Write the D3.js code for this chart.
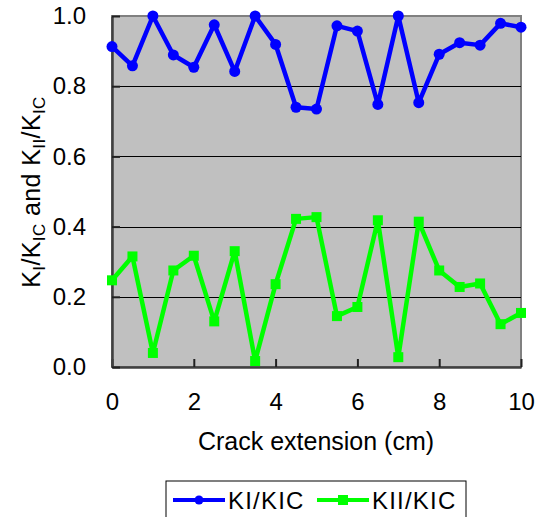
<!DOCTYPE html>
<html>
<head>
<meta charset="utf-8">
<script src="https://cdn.jsdelivr.net/npm/d3@7"></script>
<style>
  body { margin: 0; background: #fff; }
  text { font-family: "Liberation Sans", Arial, sans-serif; fill: #000; }
</style>
</head>
<body>
<svg id="chart"></svg>
<script>
// Data
const crackExt = [0, 0.5, 1, 1.5, 2, 2.5, 3, 3.5, 4, 4.5, 5, 5.5, 6, 6.5, 7, 7.5, 8, 8.5, 9, 9.5, 10];
const kiRatio = [0.913, 0.858, 1.0, 0.889, 0.854, 0.975, 0.842, 1.0, 0.919, 0.740, 0.735,
                 0.972, 0.957, 0.748, 1.0, 0.753, 0.891, 0.924, 0.917, 0.979, 0.968];
const kiiRatio = [0.247, 0.315, 0.040, 0.275, 0.317, 0.130, 0.330, 0.017, 0.236, 0.422, 0.427,
                  0.145, 0.171, 0.418, 0.028, 0.414, 0.275, 0.228, 0.238, 0.122, 0.154];
const xTicks = [0, 2, 4, 6, 8, 10];
const yTicks = [0, 0.2, 0.4, 0.6, 0.8, 1.0];
const seriesNames = ["KI/KIC", "KII/KIC"];

const width = 535, height = 517;
const margin = { top: 16, right: 14, bottom: 150, left: 112 };
const innerWidth = width - margin.left - margin.right;
const innerHeight = height - margin.top - margin.bottom;

const svg = d3.select("#chart")
    .attr("width", width)
    .attr("height", height);

const xScale = d3.scaleLinear().domain([0, 10]).range([0, innerWidth]);
const yScale = d3.scaleLinear().domain([0, 1]).range([innerHeight, 0]);

const innerChart = svg.append("g")
    .attr("transform", `translate(${margin.left},${margin.top})`);

// Plot background
innerChart.append("rect")
    .attr("width", innerWidth)
    .attr("height", innerHeight)
    .attr("fill", "#c0c0c0")
    .attr("stroke", "#808080")
    .attr("stroke-width", 2);

// Gridlines
innerChart.selectAll("line.grid")
    .data(yTicks.filter(d => d > 0 && d < 1))
    .join("line")
    .attr("class", "grid")
    .attr("x1", 0)
    .attr("x2", innerWidth)
    .attr("y1", d => Math.round(yScale(d)) + 0.5)
    .attr("y2", d => Math.round(yScale(d)) + 0.5)
    .attr("stroke", "#000")
    .attr("stroke-width", 1);

// Axes (ticks pointing inward)
const bottomAxis = d3.axisBottom(xScale)
    .tickValues(xTicks)
    .tickSizeInner(-8)
    .tickSizeOuter(0)
    .tickPadding(26)
    .tickFormat(d3.format("d"));
const bottomG = innerChart.append("g")
    .attr("transform", `translate(0, ${innerHeight})`)
    .call(bottomAxis);

const leftAxis = d3.axisLeft(yScale)
    .tickValues(yTicks)
    .tickSizeInner(-8)
    .tickSizeOuter(0)
    .tickPadding(26)
    .tickFormat(d3.format(".1f"));
const leftG = innerChart.append("g")
    .call(leftAxis);

[bottomG, leftG].forEach(g => {
    g.select(".domain").attr("stroke", "#404040").attr("stroke-width", 2.5);
    g.selectAll(".tick line").attr("stroke", "#202020").attr("stroke-width", 2);
    g.selectAll(".tick text").attr("font-size", 24).attr("fill", "#000");
});

// Lines
const line = d3.line()
    .x((d, i) => xScale(crackExt[i]))
    .y(d => yScale(d));

innerChart.append("path")
    .datum(kiRatio)
    .attr("d", line)
    .attr("fill", "none")
    .attr("stroke", "#0000ff")
    .attr("stroke-width", 4.5)
    .attr("stroke-linejoin", "round");

innerChart.selectAll("circle.ki")
    .data(kiRatio)
    .join("circle")
    .attr("class", "ki")
    .attr("cx", (d, i) => xScale(crackExt[i]))
    .attr("cy", d => yScale(d))
    .attr("r", 5.5)
    .attr("fill", "#0000ff");

innerChart.append("path")
    .datum(kiiRatio)
    .attr("d", line)
    .attr("fill", "none")
    .attr("stroke", "#00ff00")
    .attr("stroke-width", 4.5)
    .attr("stroke-linejoin", "round");

innerChart.selectAll("rect.kii")
    .data(kiiRatio)
    .join("rect")
    .attr("class", "kii")
    .attr("x", (d, i) => xScale(crackExt[i]) - 5)
    .attr("y", d => yScale(d) - 5)
    .attr("width", 10)
    .attr("height", 10)
    .attr("fill", "#00ff00");

// x-axis label
svg.append("text")
    .text("Crack extension (cm)")
    .attr("text-anchor", "middle")
    .attr("x", 316)
    .attr("y", 450)
    .attr("font-size", 25);

// y-axis label with subscripts
const yLabel = svg.append("text")
    .attr("text-anchor", "middle")
    .attr("transform", `translate(40, 192) rotate(-90)`)
    .attr("font-size", 25)
    .attr("letter-spacing", 0.4);
const parts = [["K", 0], ["I", 1], ["/K", 0], ["IC", 1], [" and K", 0], ["II", 1], ["/K", 0], ["IC", 1]];
parts.forEach(([t, sub], i) => {
    yLabel.append("tspan")
        .text(t)
        .attr("font-size", sub ? 17 : 25)
        .attr("dy", sub ? 5 : (i === 0 ? 0 : -5));
});

// Legend
const legend = svg.append("g").attr("transform", "translate(166, 481)");
legend.append("rect")
    .attr("width", 300)
    .attr("height", 45)
    .attr("fill", "#fff")
    .attr("stroke", "#000")
    .attr("stroke-width", 1);

const legendItems = [
    { name: seriesNames[0], color: "#0000ff", x: 7, shape: "circle" },
    { name: seriesNames[1], color: "#00ff00", x: 151, shape: "square" }
];
legendItems.forEach(item => {
    const g = legend.append("g").attr("transform", `translate(${item.x}, 19)`);
    g.append("line")
        .attr("x1", 0).attr("x2", 52)
        .attr("stroke", item.color)
        .attr("stroke-width", 4);
    if (item.shape === "circle") {
        g.append("circle").attr("cx", 26).attr("r", 4.5).attr("fill", item.color);
    } else {
        g.append("rect").attr("x", 21).attr("y", -5).attr("width", 10).attr("height", 10).attr("fill", item.color);
    }
    g.append("text")
        .text(item.name)
        .attr("x", 55)
        .attr("y", 8.5)
        .attr("font-size", 24)
        .attr("letter-spacing", 1.2);
});
</script>
</body>
</html>
